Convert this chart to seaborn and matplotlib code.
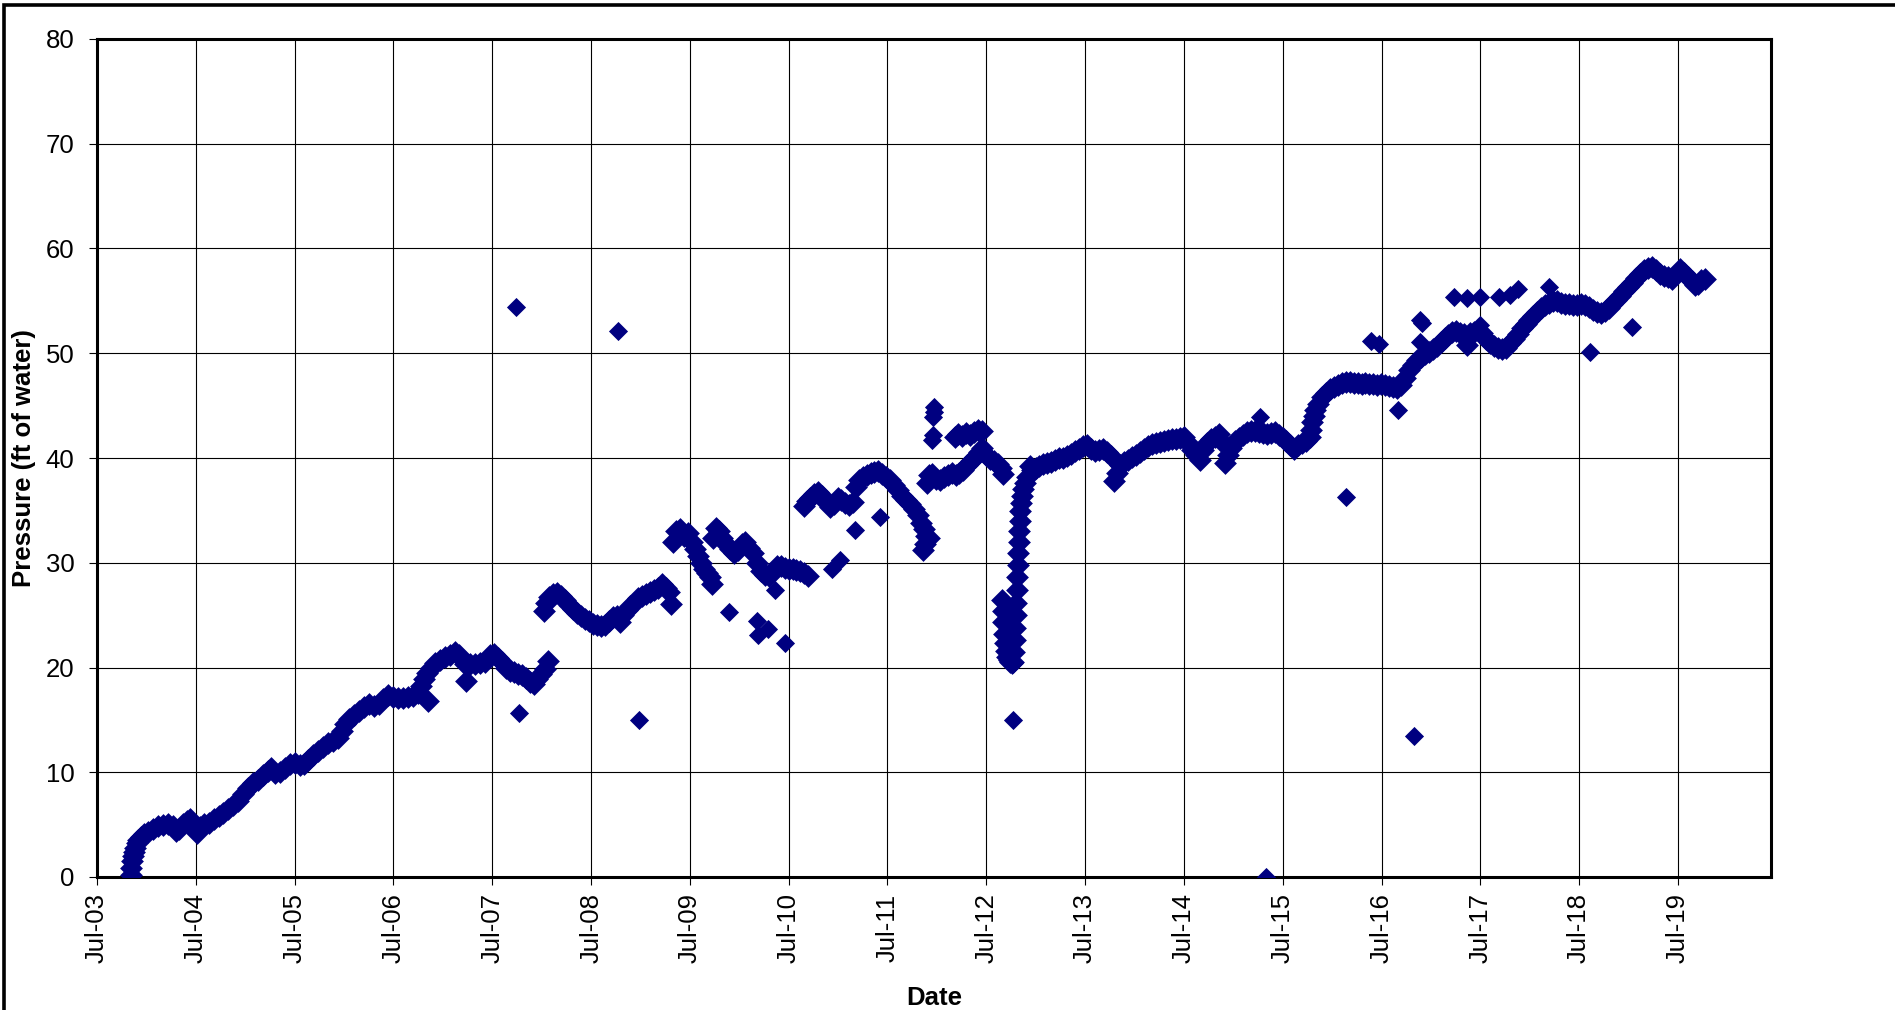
import pandas as pd
import numpy as np
import matplotlib
matplotlib.use("Agg")
import matplotlib.pyplot as plt
import matplotlib.dates as mdates
import seaborn as sns

# Decimal years, pressures in ft of water

years_2003_2008 = [2003.84, 2003.845, 2003.85, 2003.86, 2003.87, 2003.88, 2003.90, 2003.92, 2003.95, 2003.98,
                   2004.02, 2004.07, 2004.12, 2004.17, 2004.22, 2004.27, 2004.30, 2004.33, 2004.37, 2004.41,
                   2004.44, 2004.48, 2004.51, 2004.54, 2004.58, 2004.63, 2004.68, 2004.73, 2004.78, 2004.83,
                   2004.88, 2004.93, 2004.98, 2005.03, 2005.08, 2005.13, 2005.18, 2005.23, 2005.26, 2005.30,
                   2005.35, 2005.40, 2005.45, 2005.50, 2005.55, 2005.60, 2005.64, 2005.69, 2005.74, 2005.79,
                   2005.84, 2005.89, 2005.94, 2005.98, 2006.01, 2006.05, 2006.10, 2006.15, 2006.20, 2006.25,
                   2006.30, 2006.35, 2006.40, 2006.45, 2006.50, 2006.55, 2006.60, 2006.65, 2006.70, 2006.75,
                   2006.78, 2006.81, 2006.85, 2006.84, 2006.88, 2006.92, 2006.97, 2007.02, 2007.07, 2007.12,
                   2007.16, 2007.20, 2007.24, 2007.23, 2007.28, 2007.33, 2007.38, 2007.43, 2007.48, 2007.52,
                   2007.56, 2007.60, 2007.64, 2007.68, 2007.72, 2007.76, 2007.80, 2007.84, 2007.88, 2007.92,
                   2007.95, 2007.99, 2008.03, 2008.07]
press_2003_2008 = [0.2, 0.9, 1.5, 2.0, 2.4, 2.8, 3.2, 3.5, 3.8, 4.1,
                   4.3, 4.6, 4.9, 5.0, 5.1, 4.9, 4.4, 4.6, 5.1, 5.3,
                   5.5, 4.8, 4.2, 4.8, 5.1, 5.2, 5.5, 5.8, 6.1, 6.5,
                   6.9, 7.3, 7.9, 8.5, 9.0, 9.3, 9.7, 10.1, 10.4, 9.9,
                   10.0, 10.4, 10.8, 10.9, 10.7, 10.8, 11.2, 11.6, 12.0, 12.4,
                   12.8, 13.0, 13.3, 13.9, 14.6, 15.1, 15.5, 15.8, 16.2, 16.5,
                   16.3, 16.5, 17.0, 17.4, 17.2, 17.1, 17.1, 17.2, 17.3, 17.6,
                   18.2, 18.9, 16.8, 19.5, 20.0, 20.4, 20.7, 21.0, 21.2, 21.5,
                   21.2, 20.7, 18.7, 20.3, 20.3, 20.3, 20.4, 20.5, 21.2, 21.3,
                   20.9, 20.5, 20.0, 19.7, 19.6, 19.4, 19.3, 19.0, 18.6, 18.4,
                   18.9, 19.4, 19.9, 20.6]

years_2008_2009 = [2008.02, 2008.04, 2008.08, 2008.12, 2008.16, 2008.20, 2008.24, 2008.28, 2008.32, 2008.36,
                   2008.40, 2008.44, 2008.48, 2008.52, 2008.56, 2008.60, 2008.64, 2008.68, 2008.72, 2008.76,
                   2008.79, 2008.82, 2008.86, 2008.90, 2008.94, 2008.98, 2009.02, 2009.06, 2009.10, 2009.14,
                   2009.18, 2009.22, 2009.26, 2009.29, 2009.31]
press_2008_2009 = [25.4, 26.2, 26.7, 27.0, 27.1, 26.8, 26.4, 26.0, 25.6, 25.2,
                   24.9, 24.6, 24.4, 24.2, 24.1, 24.0, 24.1, 24.4, 24.8, 24.9,
                   24.3, 25.0, 25.5, 25.9, 26.2, 26.6, 26.8, 27.0, 27.2, 27.4,
                   27.6, 28.0, 27.6, 27.2, 26.1]

years_2009_2010 = [2009.33, 2009.36, 2009.40, 2009.44, 2009.48, 2009.52, 2009.55, 2009.58, 2009.61, 2009.64,
                   2009.67, 2009.70, 2009.73, 2009.74, 2009.77, 2009.80, 2009.83, 2009.87, 2009.91, 2009.95,
                   2009.99, 2010.03, 2010.06, 2010.10, 2010.14, 2010.18, 2010.22, 2010.26, 2010.30, 2010.34,
                   2010.38, 2010.42, 2010.46, 2010.50, 2010.54, 2010.58, 2010.62, 2010.66, 2010.70]
press_2009_2010 = [32.0, 33.0, 33.2, 32.6, 32.8, 32.0, 31.3, 30.6, 30.0, 29.4,
                   29.0, 28.6, 28.0, 32.4, 33.3, 33.0, 32.4, 31.8, 31.3, 30.9,
                   31.2, 31.8, 32.0, 31.4, 30.9, 30.0, 29.2, 28.8, 28.7, 29.2,
                   29.7, 29.7, 29.5, 29.4, 29.4, 29.3, 29.2, 29.0, 28.7]

years_2010_2011 = [2010.66, 2010.69, 2010.72, 2010.76, 2010.80, 2010.84, 2010.88, 2010.92, 2010.96, 2011.00,
                   2011.03, 2011.07, 2011.11, 2011.15, 2011.18, 2011.21, 2011.25, 2011.29, 2011.33, 2011.37,
                   2011.41, 2011.45, 2011.49, 2011.53, 2011.57, 2011.61, 2011.65, 2011.69, 2011.73, 2011.77,
                   2011.81, 2011.84, 2011.86, 2011.87, 2011.88, 2011.89, 2011.92]
press_2010_2011 = [35.4, 35.9, 36.2, 36.6, 36.8, 36.4, 35.8, 35.3, 35.6, 36.2,
                   36.0, 35.7, 35.5, 35.8, 37.2, 37.9, 38.2, 38.4, 38.6, 38.7,
                   38.8, 38.5, 38.2, 37.9, 37.4, 36.9, 36.4, 36.0, 35.6, 35.1,
                   34.6, 33.8, 31.2, 33.2, 31.8, 32.6, 32.4]

years_2012 = [2011.90, 2011.92, 2011.95, 2011.99, 2012.03, 2012.07, 2012.11, 2012.15, 2012.19, 2012.23,
              2012.27, 2012.31, 2012.35, 2012.39, 2012.43, 2012.46, 2012.50, 2012.54, 2012.58, 2012.62,
              2012.65, 2012.67, 2012.18, 2012.22, 2012.26, 2012.30, 2012.34, 2012.38, 2012.42, 2012.46]
press_2012 = [37.6, 38.4, 38.5, 38.0, 37.9, 38.2, 38.4, 38.6, 38.4, 38.6,
              38.9, 39.3, 39.7, 40.1, 40.6, 41.0, 40.3, 39.9, 39.7, 39.4,
              39.0, 38.5, 42.0, 42.3, 42.1, 42.4, 42.2, 42.5, 42.7, 42.6]

# late-2012 drawdown and recovery
years_dip = [2012.665, 2012.67, 2012.675, 2012.68, 2012.69, 2012.70, 2012.715, 2012.73, 2012.745, 2012.76,
             2012.775, 2012.785, 2012.79, 2012.795, 2012.80, 2012.805, 2012.81, 2012.815, 2012.82, 2012.825,
             2012.83, 2012.835, 2012.84, 2012.845, 2012.85, 2012.86, 2012.875, 2012.89, 2012.91, 2012.94]
press_dip = [26.4, 25.4, 24.3, 23.2, 22.3, 21.6, 21.0, 20.7, 20.5, 20.4,
             20.5, 21.5, 22.6, 23.8, 25.0, 26.2, 27.4, 28.6, 29.8, 30.9,
             32.0, 33.0, 34.0, 34.9, 35.7, 36.4, 37.0, 37.6, 38.2, 39.2]

years_2013_2015 = [2012.96, 2013.00, 2013.04, 2013.08, 2013.12, 2013.16, 2013.20, 2013.24, 2013.28, 2013.32,
                   2013.36, 2013.40, 2013.44, 2013.48, 2013.52, 2013.56, 2013.60, 2013.64, 2013.68, 2013.72,
                   2013.76, 2013.79, 2013.82, 2013.86, 2013.90, 2013.94, 2013.98, 2014.02, 2014.06, 2014.10,
                   2014.14, 2014.18, 2014.22, 2014.26, 2014.30, 2014.34, 2014.38, 2014.42, 2014.46, 2014.50,
                   2014.54, 2014.58, 2014.62, 2014.66, 2014.70, 2014.74, 2014.78, 2014.82, 2014.86, 2014.89,
                   2014.92, 2014.95, 2014.98, 2015.02, 2015.06, 2015.10, 2015.14, 2015.18, 2015.22, 2015.26,
                   2015.30, 2015.34]
press_2013_2015 = [38.9, 39.0, 39.2, 39.4, 39.5, 39.6, 39.8, 40.0, 40.0, 40.2,
                   40.4, 40.7, 40.9, 41.1, 41.2, 40.9, 40.7, 40.8, 40.9, 40.6,
                   40.2, 37.8, 38.6, 39.3, 39.6, 39.8, 40.1, 40.3, 40.6, 40.9,
                   41.1, 41.3, 41.4, 41.5, 41.6, 41.7, 41.8, 41.8, 41.9, 42.0,
                   41.4, 40.8, 40.3, 39.8, 40.8, 41.4, 41.8, 42.0, 42.3, 41.5,
                   39.5, 40.3, 41.0, 41.6, 41.9, 42.2, 42.5, 42.6, 42.6, 42.5,
                   42.4, 42.3]

years_2015_2017 = [2015.38, 2015.42, 2015.46, 2015.50, 2015.54, 2015.58, 2015.62, 2015.66, 2015.70, 2015.74,
                   2015.78, 2015.79, 2015.80, 2015.815, 2015.83, 2015.86, 2015.90, 2015.94, 2015.98, 2016.02,
                   2016.06, 2016.10, 2016.14, 2016.18, 2016.22, 2016.26, 2016.30, 2016.34, 2016.38, 2016.42,
                   2016.46, 2016.50, 2016.54, 2016.58, 2016.62, 2016.66, 2016.70, 2016.74, 2016.78, 2016.82,
                   2016.86, 2016.90, 2016.94, 2016.98, 2017.02, 2017.06, 2017.10, 2017.14, 2017.18, 2017.22,
                   2017.26]
press_2015_2017 = [42.4, 42.5, 42.2, 41.9, 41.6, 41.2, 40.9, 41.2, 41.4, 41.6,
                   42.0, 42.7, 43.4, 44.0, 44.6, 45.2, 45.8, 46.2, 46.6, 46.8,
                   47.0, 47.2, 47.3, 47.3, 47.2, 47.2, 47.1, 47.2, 47.1, 47.1,
                   47.0, 47.1, 47.0, 46.9, 46.8, 46.7, 47.0, 47.6, 48.4, 48.9,
                   49.4, 49.6, 49.9, 50.1, 50.4, 50.7, 51.1, 51.5, 51.7, 52.0,
                   52.1]

years_2017_2019 = [2017.30, 2017.34, 2017.37, 2017.40, 2017.44, 2017.48, 2017.52, 2017.56, 2017.60, 2017.64,
                   2017.68, 2017.72, 2017.76, 2017.80, 2017.84, 2017.88, 2017.92, 2017.96, 2018.00, 2018.04,
                   2018.08, 2018.12, 2018.16, 2018.20, 2018.24, 2018.28, 2018.32, 2018.36, 2018.40, 2018.44,
                   2018.48, 2018.52, 2018.56, 2018.60, 2018.64, 2018.68, 2018.72, 2018.76, 2018.80, 2018.84,
                   2018.88, 2018.92, 2018.96, 2019.00, 2019.04, 2019.08, 2019.12, 2019.16, 2019.20, 2019.24,
                   2019.28, 2019.32, 2019.36, 2019.40, 2019.44, 2019.48, 2019.52, 2019.56, 2019.60, 2019.64,
                   2019.68, 2019.71, 2019.74, 2019.78]
press_2017_2019 = [51.9, 51.8, 50.8, 51.9, 52.0, 52.2, 51.9, 51.4, 51.0, 50.7,
                   50.5, 50.4, 50.5, 51.0, 51.4, 51.8, 52.4, 52.8, 53.2, 53.6,
                   53.9, 54.3, 54.6, 54.8, 55.0, 55.0, 54.8, 54.7, 54.7, 54.6,
                   54.6, 54.7, 54.6, 54.4, 54.1, 53.9, 53.8, 54.0, 54.3, 54.7,
                   55.1, 55.5, 55.9, 56.3, 56.7, 57.2, 57.6, 57.9, 58.1, 58.2,
                   57.9, 57.6, 57.4, 57.3, 57.1, 57.6, 58.0, 57.7, 57.3, 56.9,
                   56.5, 56.6, 57.0, 57.1]

# isolated readings away from the main trend
years_outliers = [2007.74, 2007.77, 2008.77, 2008.99, 2009.90, 2010.18, 2010.29, 2010.19, 2010.36, 2010.46,
                  2010.94, 2011.02, 2011.17, 2011.43, 2011.955, 2011.96, 2011.965, 2011.97, 2011.97, 2012.77,
                  2015.27, 2015.33, 2016.14, 2016.67, 2016.40, 2016.48, 2016.83, 2016.89, 2016.91, 2016.89,
                  2017.24, 2017.37, 2017.50, 2017.50, 2017.69, 2017.80, 2017.88, 2018.20, 2018.61, 2019.04]
press_outliers = [54.4, 15.65, 52.1, 15.0, 25.3, 24.4, 23.7, 23.1, 27.4, 22.3,
                  29.45, 30.3, 33.1, 34.4, 41.7, 42.2, 43.9, 44.4, 44.9, 15.0,
                  43.9, 0.0, 36.3, 44.6, 51.2, 50.9, 13.5, 53.2, 52.9, 51.1,
                  55.4, 55.3, 55.4, 52.7, 55.4, 55.6, 56.1, 56.3, 50.1, 52.5]

y_ticks = list(range(0, 81, 10))


def to_dates(years):
    start = pd.Timestamp("2003-07-01")
    days = (np.array(years) - 2003.5) * 365.25
    return start + pd.to_timedelta(days, unit="D")


def build_trend():
    pairs = [(years_2003_2008, press_2003_2008), (years_2008_2009, press_2008_2009),
             (years_2009_2010, press_2009_2010), (years_2010_2011, press_2010_2011),
             (years_2012, press_2012), (years_dip, press_dip),
             (years_2013_2015, press_2013_2015), (years_2015_2017, press_2015_2017),
             (years_2017_2019, press_2017_2019)]
    parts = [pd.DataFrame({"Date": to_dates(y), "Pressure": p}) for y, p in pairs]
    return pd.concat(parts, ignore_index=True)


def main():
    trend = build_trend()
    spikes = pd.DataFrame({"Date": to_dates(years_outliers), "Pressure": press_outliers})

    sns.set_theme(style="white")
    plt.rcParams["font.family"] = ["Liberation Sans", "DejaVu Sans"]

    fig = plt.figure(figsize=(18.95, 10.10), dpi=100)
    ax = fig.add_axes([97 / 1895, 1 - 877 / 1010, (1771 - 97) / 1895, (877 - 39) / 1010])

    # the daily record forms a thick band, so its markers are drawn a bit larger
    sns.scatterplot(data=trend, x="Date", y="Pressure", marker="D", color="#000080",
                    s=135, linewidth=0, ax=ax, zorder=3)
    sns.scatterplot(data=spikes, x="Date", y="Pressure", marker="D", color="#000080",
                    s=95, linewidth=0, ax=ax, zorder=3)

    ax.set_xlim(pd.Timestamp("2003-07-01"), pd.Timestamp("2020-06-10"))
    ax.set_ylim(0, 80)
    ax.set_yticks(y_ticks)
    ax.xaxis.set_major_locator(mdates.MonthLocator(bymonth=7, bymonthday=1))
    ax.xaxis.set_major_formatter(mdates.DateFormatter("%b-%y"))

    ax.grid(True, color="black", linewidth=0.8)
    ax.set_axisbelow(True)
    for side in ax.spines.values():
        side.set_visible(True)
        side.set_color("black")
        side.set_linewidth(2.2)

    ax.tick_params(axis="both", which="major", direction="out", length=5.8, width=0.8,
                   color="black", labelsize=18.5, labelcolor="black",
                   bottom=True, left=True)
    ax.tick_params(axis="y", pad=10.5)
    ax.tick_params(axis="x", pad=6, labelrotation=90)

    ax.set_xlabel("Date", fontsize=18.5, fontweight="bold", color="black")
    ax.set_ylabel("Pressure (ft of water)", fontsize=18.5, fontweight="bold", color="black")
    ax.xaxis.set_label_coords(0.5, -0.130)
    ax.yaxis.set_label_coords(-0.0364, 0.5)

    # outer chart frame, only its left and top edges fall inside the picture
    frame = plt.Line2D([3.5 / 1895, 3.5 / 1895, 1.0], [0.0, 1 - 5.3 / 1010, 1 - 5.3 / 1010],
                       transform=fig.transFigure, color="black", linewidth=2.6,
                       solid_joinstyle="miter")
    fig.add_artist(frame)

    fig.savefig("out.png", dpi=100)


main()
